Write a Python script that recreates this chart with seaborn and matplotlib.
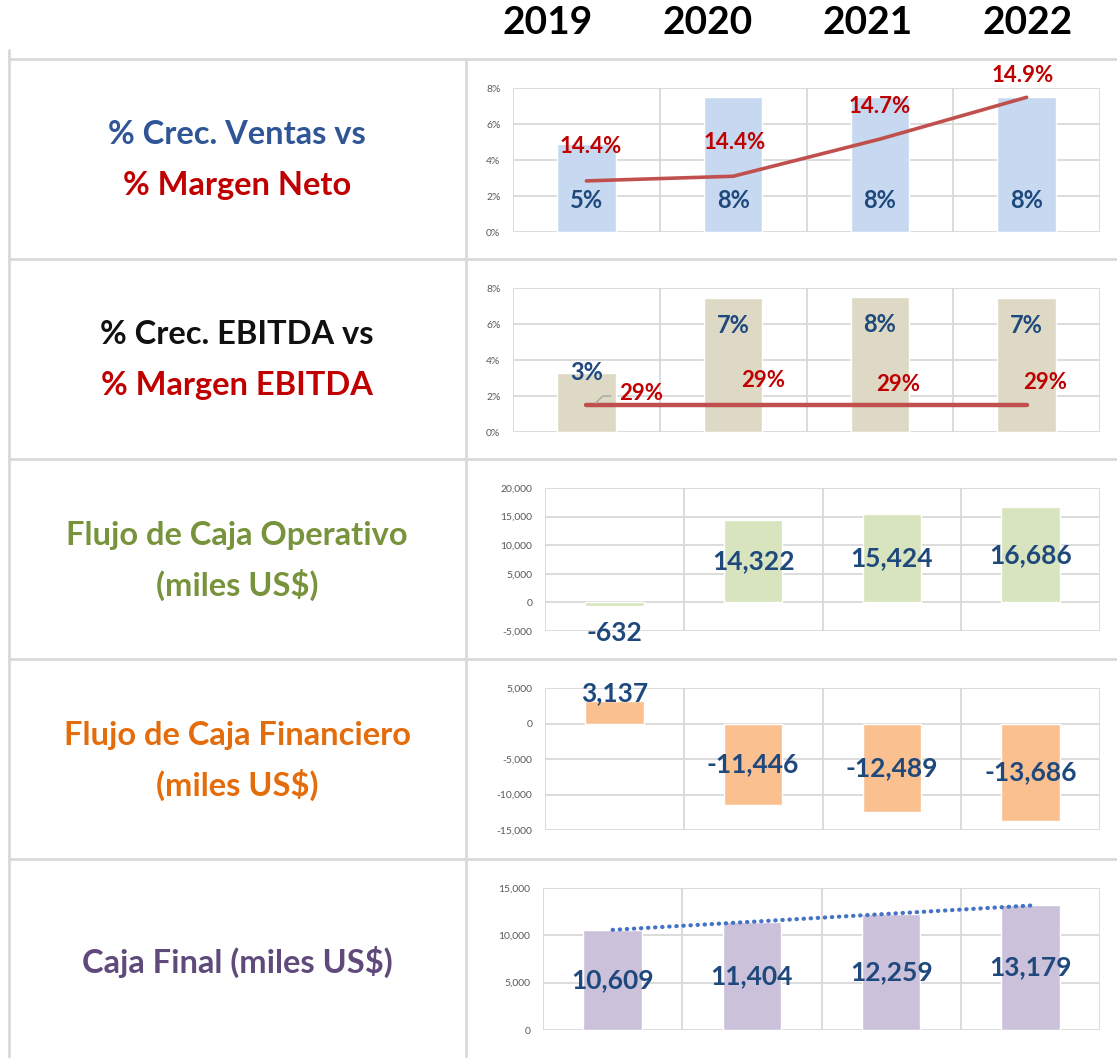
import numpy as np
import pandas as pd
import seaborn as sns
import matplotlib.pyplot as plt
from matplotlib.ticker import FuncFormatter, FixedLocator

# data
years = ["2019", "2020", "2021", "2022"]
crec_ventas = [4.9, 7.5, 7.5, 7.5]          # % growth in sales
margen_neto = [14.38, 14.41, 14.65, 14.92]  # % net margin
crec_ebitda = [3.3, 7.45, 7.5, 7.45]        # % growth EBITDA
margen_ebitda = [29, 29, 29, 29]            # % EBITDA margin
flujo_operativo = [-632, 14322, 15424, 16686]
flujo_financiero = [3137, -11446, -12489, -13686]
caja_final = [10609, 11404, 12259, 13179]

row_titles = [
    [("% Crec. Ventas vs", "#2F5597"), ("% Margen Neto", "#C00000")],
    [("% Crec. EBITDA vs", "#111111"), ("% Margen EBITDA", "#C00000")],
    [("Flujo de Caja Operativo", "#77933C"), ("(miles US$)", "#77933C")],
    [("Flujo de Caja Financiero", "#E46C0A"), ("(miles US$)", "#E46C0A")],
    [("Caja Final (miles US$)", "#604A7B")],
]

W, H = 1117, 1058
GRID = "#D9D9D9"
LBL_BLUE = "#1F497D"
RED = "#C00000"
LINE_RED = "#C0504D"

sns.set_theme(style="white")
plt.rcParams["font.family"] = ["Lato", "DejaVu Sans"]
plt.rcParams["axes.unicode_minus"] = False

fig = plt.figure(figsize=(W / 100, H / 100), dpi=100)

# background "table"
bg = fig.add_axes([0, 0, 1, 1], zorder=0)
bg.set_xlim(0, W)
bg.set_ylim(H, 0)
bg.axis("off")
for y in [59, 259, 459, 659, 859]:
    bg.plot([9, W], [y, y], color=GRID, lw=2)
bg.plot([9, 9], [50, H], color=GRID, lw=2)
bg.plot([466, 466], [59, H], color=GRID, lw=2)

for i, yr in enumerate(years):
    bg.text(548 + i * 160, 22, yr, ha="center", va="center",
            fontsize=28, fontweight="bold", color="black")

row_centers = [160, 360, 560, 760, 962]
for yc, lines in zip(row_centers, row_titles):
    n = len(lines)
    for j, (txt, col) in enumerate(lines):
        yy = yc + (j - (n - 1) / 2) * 50
        bg.text(237, yy, txt, ha="center", va="center", fontsize=23.5,
                fontweight="bold", color=col)


def make_ax(left, right, top, bottom):
    return fig.add_axes([left / W, 1 - bottom / H, (right - left) / W, (bottom - top) / H], zorder=2)


def style_ax(ax, ticks, fmt):
    ax.set_xlim(-0.5, 3.5)
    ax.set_ylim(ticks[0], ticks[-1])
    ax.yaxis.set_major_locator(FixedLocator(ticks))
    ax.yaxis.set_major_formatter(FuncFormatter(fmt))
    ax.set_xticks([])
    ax.set_xticks([-0.5, 0.5, 1.5, 2.5, 3.5], minor=True)
    ax.grid(True, which="major", axis="y", color=GRID, lw=1.3)
    ax.grid(True, which="minor", axis="x", color=GRID, lw=1.3)
    ax.tick_params(axis="y", length=0, pad=9, labelsize=7.5, labelcolor="#595959")
    ax.tick_params(axis="x", which="both", length=0)
    ax.set_xlabel("")
    ax.set_ylabel("")
    for s in ax.spines.values():
        s.set_visible(False)
    ax.set_axisbelow(True)


def bar_labels(ax, values, fmt, anchors, dys, size=16):
    for i, v in enumerate(values):
        if anchors[i] == "base":
            y = 0
        elif anchors[i] == "end":
            y = v
        else:
            y = v / 2
        ax.annotate(fmt(v), (i, y), xytext=(0, dys[i]), textcoords="offset pixels",
                    ha="center", va="center", fontsize=size, fontweight="bold",
                    color=LBL_BLUE, zorder=5)


pct = lambda v, p: f"{v:.0f}%"
thou = lambda v, p: f"{v:,.0f}"

# row 1: sales growth vs net margin
ax1 = make_ax(513, 1100, 88, 232)
sns.barplot(x=years, y=crec_ventas, ax=ax1, color="#C6D9F0", width=0.4, saturation=1)
style_ax(ax1, [0, 2, 4, 6, 8], pct)
bar_labels(ax1, crec_ventas, lambda v: f"{v:.0f}%", ["base"] * 4, [32] * 4, size=17)
ax1b = ax1.twinx()
sns.lineplot(x=range(4), y=margen_neto, ax=ax1b, color=LINE_RED, lw=2.6)
ax1b.set_ylim(14.05, 14.98)
ax1b.axis("off")
for i, (v, dx, dy) in enumerate(zip(margen_neto, [4, 2, 0, -4], [34, 34, 33, 22])):
    ax1b.annotate(f"{v:.1f}%", (i, v), xytext=(dx, dy), textcoords="offset pixels",
                  ha="center", va="center", fontsize=16, fontweight="bold", color=RED)

# row 2: EBITDA growth vs EBITDA margin
ax2 = make_ax(513, 1100, 288, 432)
sns.barplot(x=years, y=crec_ebitda, ax=ax2, color="#DDD9C4", width=0.4, saturation=1)
style_ax(ax2, [0, 2, 4, 6, 8], pct)
bar_labels(ax2, crec_ebitda, lambda v: f"{v:.0f}%", ["end"] * 4, [0, -28, -28, -28], size=17)
ax2b = ax2.twinx()
sns.lineplot(x=range(4), y=margen_ebitda, ax=ax2b, color=LINE_RED, lw=3.2)
ax2b.set_ylim(0, 155)
ax2b.axis("off")
offs2 = [(55, 12), (30, 25), (18, 21), (18, 23)]
for i, (v, (dx, dy)) in enumerate(zip(margen_ebitda, offs2)):
    ax2b.annotate(f"{v:.0f}%", (i, v), xytext=(dx, dy), textcoords="offset pixels",
                  ha="center", va="center", fontsize=16, fontweight="bold", color=RED)
ax2b.annotate("", (0.05, margen_ebitda[0]), xytext=(20, 9), textcoords="offset pixels",
              arrowprops=dict(arrowstyle="-", color="#A6A6A6", lw=1,
                              connectionstyle="angle,angleA=0,angleB=45"))

# row 3: operating cash flow
ax3 = make_ax(545, 1100, 488, 631)
sns.barplot(x=years, y=flujo_operativo, ax=ax3, color="#D7E4BD", width=0.42, saturation=1)
style_ax(ax3, [-5000, 0, 5000, 10000, 15000, 20000], thou)
bar_labels(ax3, flujo_operativo, lambda v: f"{v:,.0f}", ["end", "center", "center", "center"],
           [-27, 0, 0, 0], size=19)

# row 4: financing cash flow
ax4 = make_ax(545, 1100, 688, 830)
sns.barplot(x=years, y=flujo_financiero, ax=ax4, color="#FAC090", width=0.42, saturation=1)
style_ax(ax4, [-15000, -10000, -5000, 0, 5000], thou)
bar_labels(ax4, flujo_financiero, lambda v: f"{v:,.0f}", ["end", "center", "center", "center"],
           [8, 0, 0, 0], size=19)

# row 5: ending cash with linear trend
ax5 = make_ax(543, 1100, 888, 1030)
sns.barplot(x=years, y=caja_final, ax=ax5, color="#CCC1DA", width=0.42, saturation=1)
sns.regplot(x=np.arange(4), y=caja_final, ax=ax5, scatter=False, ci=None, truncate=True,
            line_kws=dict(color="#4472C4", lw=3, ls=(0, (0.1, 1.6)), dash_capstyle="round"))
style_ax(ax5, [0, 5000, 10000, 15000], thou)
bar_labels(ax5, caja_final, lambda v: f"{v:,.0f}", ["center"] * 4, [0] * 4, size=19)

fig.savefig("out.png", dpi=100)
